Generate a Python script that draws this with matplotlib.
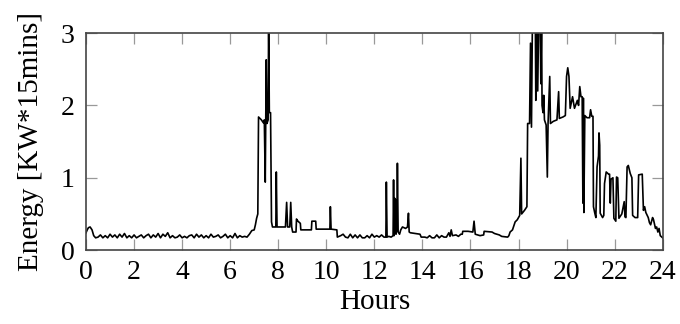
import matplotlib.pyplot as plt

plt.rcParams["font.family"] = ["Liberation Serif", "DejaVu Serif"]

night_hours = [0.0, 0.05, 0.1, 0.17, 0.25, 0.32, 0.4,
               0.5, 0.6, 0.7, 0.8, 0.9, 1.0, 1.1, 1.2, 1.3, 1.4, 1.5, 1.6, 1.7,
               1.8, 1.9, 2.0, 2.1, 2.2, 2.3, 2.4, 2.5, 2.6, 2.7, 2.8, 2.9, 3.0,
               3.1, 3.2, 3.3, 3.4, 3.5, 3.6, 3.7, 3.8, 3.9, 4.0, 4.1, 4.2, 4.3,
               4.4, 4.5, 4.6, 4.7, 4.8, 4.9, 5.0, 5.1, 5.2, 5.3, 5.4, 5.5, 5.6,
               5.7, 5.8, 5.9, 6.0, 6.1, 6.2, 6.3, 6.4, 6.5, 6.6, 6.7]
night_energy = [0.24, 0.28, 0.31, 0.32, 0.28, 0.2, 0.17,
                0.18, 0.21, 0.17, 0.2, 0.17, 0.22, 0.18, 0.21, 0.17, 0.22, 0.18, 0.23, 0.17,
                0.2, 0.17, 0.21, 0.17, 0.19, 0.21, 0.17, 0.2, 0.22, 0.17, 0.21, 0.18, 0.23,
                0.17, 0.22, 0.19, 0.24, 0.17, 0.2, 0.17, 0.18, 0.21, 0.17, 0.19, 0.17,
                0.2, 0.21, 0.17, 0.22, 0.18, 0.21, 0.17, 0.2, 0.17, 0.22, 0.18, 0.19,
                0.21, 0.17, 0.19, 0.22, 0.17, 0.2, 0.17, 0.23, 0.17, 0.2, 0.18, 0.19, 0.18]

morning_hours = [6.8, 6.9, 7.0, 7.05, 7.1, 7.15, 7.18, 7.3, 7.38, 7.42, 7.46, 7.5,
                 7.53, 7.58, 7.6, 7.63, 7.68, 7.72, 7.76, 7.9, 7.92, 7.95,
                 8.3, 8.35, 8.39, 8.48, 8.52, 8.56, 8.6, 8.74, 8.76, 8.82, 8.92,
                 8.94, 9.38, 9.4, 9.56, 9.58, 10.15, 10.17, 10.2, 10.44, 10.46]
morning_energy = [0.22, 0.27, 0.28, 0.35, 0.44, 0.5, 1.84, 1.8, 1.76, 1.8, 0.94, 2.63,
                  1.75, 1.8, 3.2, 1.9, 1.9, 0.39, 0.32, 0.32, 1.08, 0.32,
                  0.32, 0.66, 0.32, 0.32, 0.66, 0.32, 0.25, 0.25, 0.43, 0.4, 0.37,
                  0.28, 0.28, 0.4, 0.4, 0.29, 0.29, 0.6, 0.29, 0.28, 0.18]

midday_hours = [10.6, 10.7, 10.8, 10.9, 11.0, 11.1, 11.2, 11.3, 11.4, 11.5, 11.6,
                11.7, 11.8, 11.9, 12.0, 12.1, 12.2, 12.3, 12.4, 12.48, 12.5, 12.53,
                12.6, 12.7, 12.78, 12.8, 12.82, 12.84, 12.86, 12.88, 12.9, 12.94,
                12.96, 12.99, 13.05, 13.1, 13.17, 13.3, 13.38, 13.42, 13.45, 13.5,
                13.7, 13.9, 13.95, 14.1, 14.2, 14.3, 14.4, 14.5, 14.6, 14.7, 14.8,
                14.9, 15.0, 15.1, 15.15, 15.2, 15.25, 15.4, 15.5, 15.6, 15.66, 15.68,
                15.9, 16.1, 16.15, 16.2, 16.3, 16.4, 16.55, 16.57, 16.9, 17.0, 17.2,
                17.3, 17.55, 17.6, 17.65, 17.75, 17.8, 17.86, 17.95, 18.05]
midday_energy = [0.2, 0.22, 0.18, 0.17, 0.22, 0.17, 0.21, 0.17, 0.21, 0.17, 0.17,
                 0.2, 0.17, 0.22, 0.18, 0.2, 0.18, 0.21, 0.18, 0.18, 0.94, 0.18,
                 0.19, 0.18, 0.2, 0.97, 0.2, 0.72, 0.25, 0.7, 0.22, 0.3,
                 1.2, 0.25, 0.22, 0.28, 0.32, 0.3, 0.32, 0.51, 0.25, 0.24,
                 0.23, 0.22, 0.18, 0.18, 0.17, 0.2, 0.17, 0.17, 0.21, 0.17, 0.2,
                 0.18, 0.18, 0.24, 0.19, 0.28, 0.2, 0.21, 0.19, 0.22, 0.22, 0.26,
                 0.26, 0.25, 0.4, 0.22, 0.21, 0.2, 0.21, 0.26, 0.25, 0.23, 0.21,
                 0.19, 0.18, 0.2, 0.25, 0.28, 0.33, 0.39, 0.42, 0.48]

evening_hours = [18.1, 18.13, 18.25, 18.35, 18.38, 18.46, 18.5, 18.54, 18.58, 18.7,
                 18.72, 18.76, 18.8, 18.84, 18.9, 18.93, 18.96, 18.98, 19.02, 19.05,
                 19.08, 19.15, 19.2, 19.23, 19.3, 19.33, 19.45, 19.6, 19.67, 19.7,
                 19.85, 19.95, 20.0, 20.05, 20.1, 20.15, 20.25, 20.33, 20.45, 20.5,
                 20.55, 20.6, 20.65, 20.68, 20.7, 20.72, 20.76, 20.85, 20.96, 21.0,
                 21.05, 21.1, 21.12, 21.17, 21.22, 21.27, 21.33, 21.35, 21.38, 21.4,
                 21.5, 21.55, 21.58, 21.65, 21.75, 21.79, 21.82, 21.85, 21.93, 21.97,
                 22.05, 22.08, 22.13, 22.18, 22.3, 22.4, 22.43, 22.47, 22.52, 22.57,
                 22.65, 22.72, 22.75, 22.85, 22.96, 23.0, 23.15, 23.2, 23.25, 23.3,
                 23.4, 23.45, 23.5, 23.58, 23.62, 23.7, 23.75, 23.8, 23.85, 23.9, 24.0]
evening_energy = [1.27, 0.5, 0.55, 0.6, 1.75, 1.75, 2.86, 1.7, 3.2, 3.2,
                  2.07, 3.2, 2.2, 3.2, 3.2, 2.3, 3.2, 2.0, 1.9, 2.14,
                  1.8, 1.73, 1.01, 1.75, 2.4, 1.75, 1.78, 1.8, 2.19, 1.82,
                  1.84, 1.86, 2.4, 2.52, 2.4, 1.96, 2.12, 1.96, 2.07, 2.0,
                  2.26, 2.12, 2.12, 0.65, 2.1, 0.52, 1.86, 1.83, 1.83, 1.94,
                  1.85, 1.85, 0.6, 0.52, 0.45, 1.15, 1.3, 1.62, 1.45, 0.51,
                  0.45, 0.48, 0.92, 1.08, 1.05, 1.05, 0.65, 0.98, 1.0, 0.44,
                  0.4, 1.01, 1.0, 0.44, 0.5, 0.67, 0.46, 0.45, 1.15, 1.17,
                  1.06, 1.0, 0.48, 0.45, 0.45, 1.04, 1.05, 0.55, 0.6, 0.52,
                  0.45, 0.38, 0.35, 0.45, 0.42, 0.3, 0.32, 0.25, 0.3, 0.2, 0.17]

hours = night_hours + morning_hours + midday_hours + evening_hours
energy = night_energy + morning_energy + midday_energy + evening_energy

x_ticks = list(range(0, 25, 2))
y_ticks = [0, 1, 2, 3]

fig = plt.figure(figsize=(6.8, 3.24), dpi=100)
ax = fig.add_axes([0.1265, 0.228, 0.848, 0.67])
ax.plot(hours, energy, color="black", linewidth=1.2)
ax.set_xlim(0, 24)
ax.set_ylim(0, 3)
ax.set_xticks(x_ticks)
ax.set_yticks(y_ticks)
ax.tick_params(direction="in", top=True, right=True, length=8, width=0.9,
               color="#999999", labelsize=20)
ax.tick_params(axis="x", pad=7)
ax.tick_params(axis="y", pad=8)
for spine in ax.spines.values():
    spine.set_color("#444444")
    spine.set_linewidth(1.2)
ax.set_xlabel("Hours", fontsize=21, labelpad=3)
ax.set_ylabel("Energy [KW*15mins]", fontsize=21, labelpad=12)
fig.savefig("out.png", dpi=100)
